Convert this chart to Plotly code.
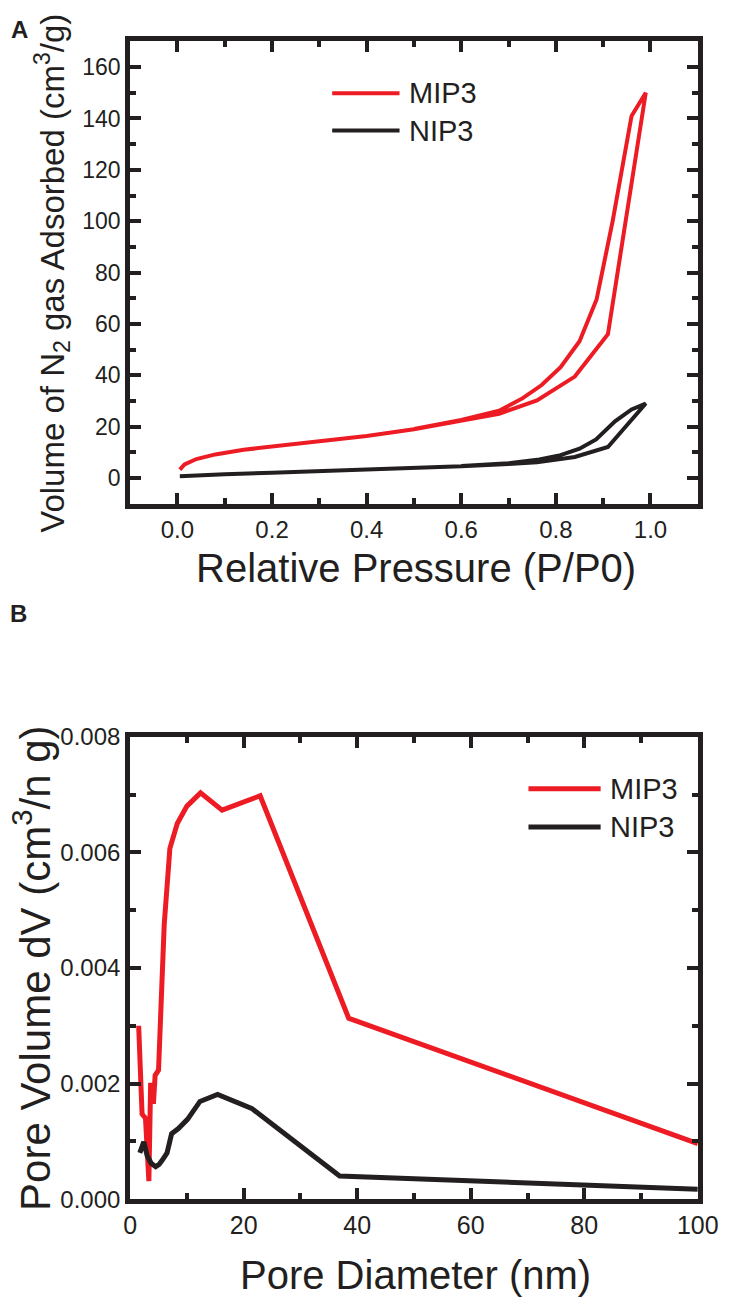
import plotly.graph_objects as go

# ---------------- data ----------------
# Panel A: N2 adsorption/desorption isotherms
mip3_ads_p = [0.005, 0.015, 0.04, 0.08, 0.14, 0.2, 0.3, 0.4, 0.5, 0.6, 0.68, 0.76, 0.84, 0.91, 0.99]
mip3_ads_v = [3.3, 5.3, 7.4, 9.2, 11.0, 12.3, 14.3, 16.4, 19.0, 22.3, 25.0, 30.2, 39.5, 56.0, 150.0]
mip3_des_p = [0.99, 0.96, 0.92, 0.886, 0.85, 0.81, 0.77, 0.73, 0.68, 0.6, 0.5]
mip3_des_v = [150.0, 141.0, 100.0, 69.5, 53.3, 43.2, 36.2, 31.1, 26.2, 22.6, 19.1]

nip3_ads_p = [0.005, 0.05, 0.1, 0.2, 0.3, 0.4, 0.5, 0.6, 0.7, 0.76, 0.84, 0.91, 0.99]
nip3_ads_v = [0.7, 1.2, 1.5, 2.1, 2.7, 3.3, 3.9, 4.6, 5.5, 6.1, 8.2, 12.1, 29.0]
nip3_des_p = [0.99, 0.96, 0.925, 0.885, 0.85, 0.81, 0.765, 0.7, 0.6]
nip3_des_v = [29.0, 26.7, 22.1, 15.0, 11.4, 8.9, 7.2, 5.8, 4.7]

# Panel B: pore size distribution
mip3_d = [1.5, 1.9, 2.1, 2.7, 3.3, 3.6, 3.9, 4.1, 4.4, 5.0, 5.3, 6.0, 7.0, 8.3, 10.0, 12.4, 16.2, 22.9, 38.5, 100]
mip3_dv = [0.00300, 0.00157, 0.00147, 0.00140, 0.00031, 0.00197, 0.00197, 0.00165, 0.00214, 0.00223,
           0.00288, 0.00475, 0.00607, 0.00650, 0.00680, 0.00703, 0.00673, 0.00698, 0.00313, 0.00096]
nip3_d = [1.7, 2.1, 2.4, 3.0, 3.7, 4.5, 5.1, 5.7, 6.5, 7.3, 8.5, 10.1, 12.3, 15.4, 21.4, 36.9, 100]
nip3_dv = [0.00080, 0.00096, 0.00099, 0.00075, 0.00062, 0.00056, 0.00060, 0.00068, 0.00080, 0.00113,
           0.00122, 0.00138, 0.00169, 0.00181, 0.00157, 0.00040, 0.00017]

series_names = ["MIP3", "NIP3"]

# ---------------- styling ----------------
W, H = 739, 1312
RED = "#ED1C24"
BLACK = "#231F20"
FONT = "Liberation Sans, Arial, sans-serif"


def px(x):
    return x / W


def py(y):
    return 1 - y / H


fig = go.Figure()

fig.add_trace(go.Scatter(x=mip3_ads_p + mip3_des_p, y=mip3_ads_v + mip3_des_v, mode="lines",
                         line=dict(color=RED, width=4), xaxis="x", yaxis="y", showlegend=False))
fig.add_trace(go.Scatter(x=nip3_ads_p + nip3_des_p, y=nip3_ads_v + nip3_des_v, mode="lines",
                         line=dict(color=BLACK, width=4), xaxis="x", yaxis="y", showlegend=False))
fig.add_trace(go.Scatter(x=mip3_d, y=mip3_dv, mode="lines",
                         line=dict(color=RED, width=5), xaxis="x2", yaxis="y2", showlegend=False))
fig.add_trace(go.Scatter(x=nip3_d, y=nip3_dv, mode="lines",
                         line=dict(color=BLACK, width=5), xaxis="x2", yaxis="y2", showlegend=False))


def axis(**kw):
    d = dict(showline=True, linecolor=BLACK, linewidth=5, mirror="ticks",
             ticks="inside", ticklen=11, tickwidth=4, tickcolor=BLACK,
             showgrid=False, zeroline=False, color=BLACK,
             minor=dict(ticks="inside", ticklen=6, tickwidth=4, tickcolor=BLACK, showgrid=False))
    d.update(kw)
    return d


xdom = [px(128), px(718)]
fig.update_layout(
    width=W, height=H,
    margin=dict(l=0, r=0, t=0, b=0),
    paper_bgcolor="white", plot_bgcolor="white",
    font=dict(family=FONT, color=BLACK),
    xaxis=axis(domain=xdom, anchor="y", range=[-0.1, 1.1], tick0=0, dtick=0.2, tickformat=".1f",
               tickfont=dict(size=24), minor_dtick=0.1, minor_tick0=0),
    yaxis=axis(domain=[py(500), py(28)], anchor="x", range=[-10, 170], tick0=0, dtick=20,
               tickfont=dict(size=23), minor_dtick=10, minor_tick0=0),
    xaxis2=axis(domain=xdom, anchor="y2", range=[0, 100], tick0=0, dtick=20,
                tickfont=dict(size=25), minor_dtick=10, minor_tick0=0),
    yaxis2=axis(domain=[py(1210), py(738)], anchor="x2", range=[0, 0.008], tick0=0, dtick=0.002,
                tickformat=".3f", tickfont=dict(size=24), minor_dtick=0.001, minor_tick0=0),
)

ann = []
# axis titles
ann.append(dict(text="Relative Pressure (P/P0)", x=px(425), y=py(566), font=dict(size=40)))
ann.append(dict(text="Volume of N<sub>2</sub> gas Adsorbed (cm<sup>3</sup>/g)", x=px(47), y=py(265),
                textangle=-90, font=dict(size=33)))
ann.append(dict(text="Pore Diameter (nm)", x=px(425), y=py(1287), font=dict(size=40)))
ann.append(dict(text="Pore Volume dV (cm<sup>3</sup>/n g)", x=px(26), y=py(974),
                textangle=-90, font=dict(size=42)))
# panel labels
ann.append(dict(text="<b>A</b>", x=px(13), y=py(16), font=dict(size=24)))
ann.append(dict(text="<b>B</b>", x=px(12), y=py(612), font=dict(size=24)))

shapes = []
# manual legends
legends = [
    dict(x0=338, x1=408, ys=[81, 119], tx=416, lw=4),
    dict(x0=542, x1=617, ys=[791, 830], tx=625, lw=5),
]
for lg in legends:
    for name, col, yy in zip(series_names, [RED, BLACK], lg["ys"]):
        shapes.append(dict(type="line", xref="paper", yref="paper",
                           x0=px(lg["x0"]), x1=px(lg["x1"]), y0=py(yy), y1=py(yy),
                           line=dict(color=col, width=lg["lw"])))
        ann.append(dict(text=name, x=px(lg["tx"]), y=py(yy), xanchor="left",
                        font=dict(size=29)))

for a in ann:
    a.setdefault("xref", "paper")
    a.setdefault("yref", "paper")
    a.setdefault("showarrow", False)
    a.setdefault("xanchor", "center")
    a.setdefault("yanchor", "middle")

fig.update_layout(annotations=ann, shapes=shapes)

fig.write_html(
    "out.html",
    config={"displayModeBar": False, "staticPlot": True},
    post_script="document.body.style.margin='0px';document.documentElement.style.overflow='hidden';",
)
